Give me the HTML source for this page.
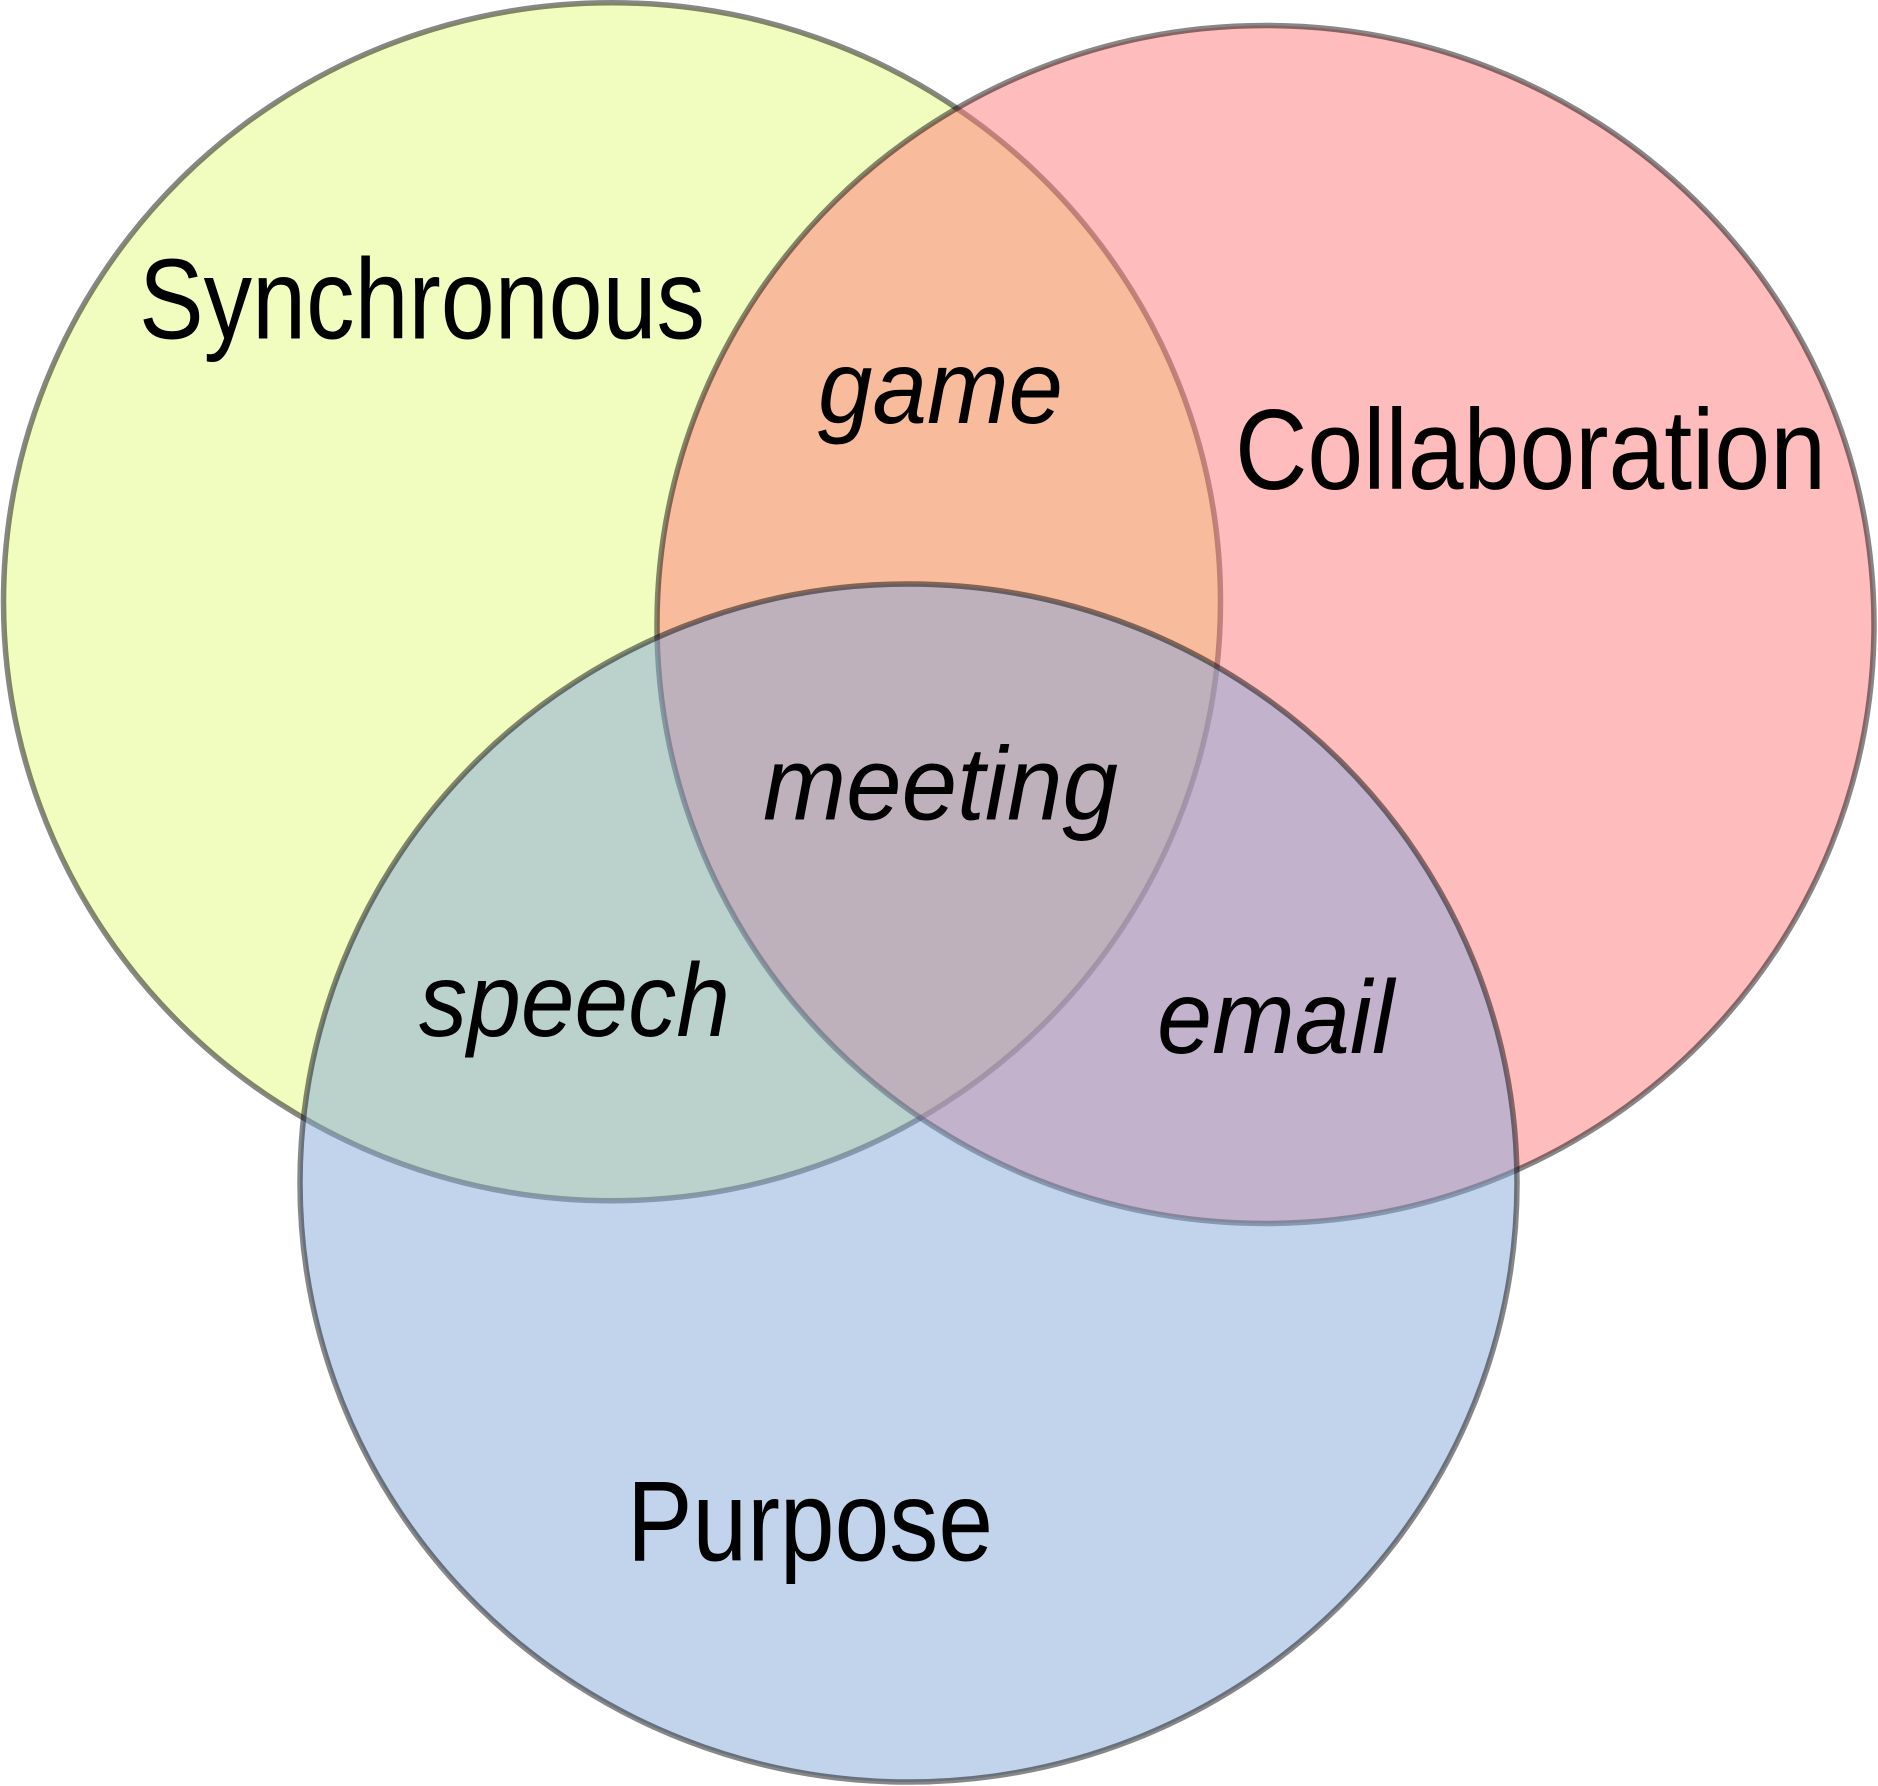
<!DOCTYPE html>
<html>
<head>
<meta charset="utf-8">
<style>
  html, body { margin: 0; padding: 0; background: #ffffff; }
  svg { display: block; }
  .title { font-family: "Liberation Sans", Arial, sans-serif; font-size: 114px; fill: #000; }
  .lab { font-family: "Liberation Sans", Arial, sans-serif; font-style: italic; font-size: 104px; fill: #000; }
</style>
</head>
<body>
<svg width="1878" height="1786" viewBox="0 0 1878 1786" xmlns="http://www.w3.org/2000/svg">
  <rect x="0" y="0" width="1878" height="1786" fill="#ffffff"/>
  <!-- Synchronous (yellow) -->
  <ellipse cx="612" cy="601.75" rx="608.5" ry="599" fill="#e3fb7d" fill-opacity="0.5" stroke="#000" stroke-opacity="0.47" stroke-width="5.5"/>
  <!-- Collaboration (pink) -->
  <ellipse cx="1265.5" cy="624.5" rx="608.5" ry="599" fill="#ff7979" fill-opacity="0.5" stroke="#000" stroke-opacity="0.47" stroke-width="5.5"/>
  <!-- Purpose (blue) -->
  <ellipse cx="908.5" cy="1183" rx="608.5" ry="599" fill="#85a7d9" fill-opacity="0.5" stroke="#000" stroke-opacity="0.47" stroke-width="5.5"/>

  <text class="title" x="139" y="338.5" textLength="566" lengthAdjust="spacingAndGlyphs">Synchronous</text>
  <text class="title" x="1235" y="489" textLength="591" lengthAdjust="spacingAndGlyphs">Collaboration</text>
  <text class="title" x="627" y="1560.5" textLength="366" lengthAdjust="spacingAndGlyphs">Purpose</text>

  <text class="lab" x="818" y="423" textLength="245" lengthAdjust="spacingAndGlyphs">game</text>
  <text class="lab" x="763" y="819.5" textLength="355" lengthAdjust="spacingAndGlyphs">meeting</text>
  <text class="lab" x="419" y="1036" textLength="311" lengthAdjust="spacingAndGlyphs">speech</text>
  <text class="lab" x="1157" y="1053" textLength="237" lengthAdjust="spacingAndGlyphs">email</text>
</svg>
</body>
</html>
